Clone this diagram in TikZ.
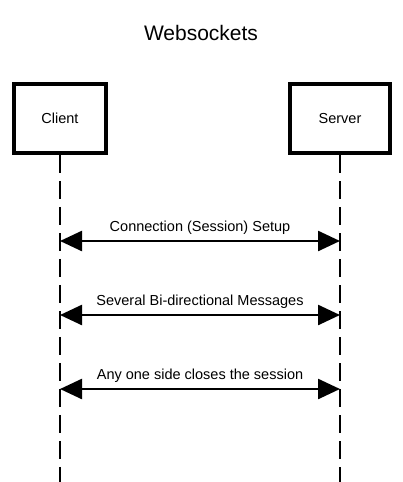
\documentclass[tikz,border=0pt]{standalone}
\usepackage{fontspec}
\setmainfont{Liberation Sans}
\usetikzlibrary{matrix,arrows.meta}

\begin{document}
\begin{tikzpicture}[x=1pt,y=-1pt,
    party/.style={draw,line width=4pt,minimum height=69pt,font=\fontsize{14.5}{17}\selectfont},
    lifeline/.style={line width=2pt,dash pattern=on 18pt off 8pt},
    msg/.style={line width=2.5pt,
                {Triangle[length=22pt,width=20pt]}-{Triangle[length=22pt,width=20pt]}}]
  \useasboundingbox (0,0) rectangle (403,482);
  \node (title) at (201,33) {\fontsize{21}{25}\selectfont Websockets};
  \matrix [matrix of nodes,
           nodes={party},
           column sep={280pt,between origins}] at (202,118.5)
  {
    |[minimum width=92pt](client)| Client & |[minimum width=100pt](server)| Server \\
  };
  % lifelines
  \coordinate (clientend) at (client |- 0,482);
  \coordinate (serverend) at (server |- 0,482);
  \draw[lifeline] (client) -- (clientend);
  \draw[lifeline] (server) -- (serverend);
  \foreach \y in {241,315,389}
  {
    \coordinate (c\y) at (client |- 0,\y);
    \coordinate (s\y) at (server |- 0,\y);
  }
  \begin{scope}[every node/.style={midway,above=5pt,inner sep=0pt,font=\fontsize{14.5}{17}\selectfont}]
    \foreach \y/\txt in {241/Connection (Session) Setup,
                         315/Several Bi-directional Messages,
                         389/Any one side closes the session}
      \draw[msg] (c\y) -- node {\txt} (s\y);
  \end{scope}
\end{tikzpicture}
\end{document}
